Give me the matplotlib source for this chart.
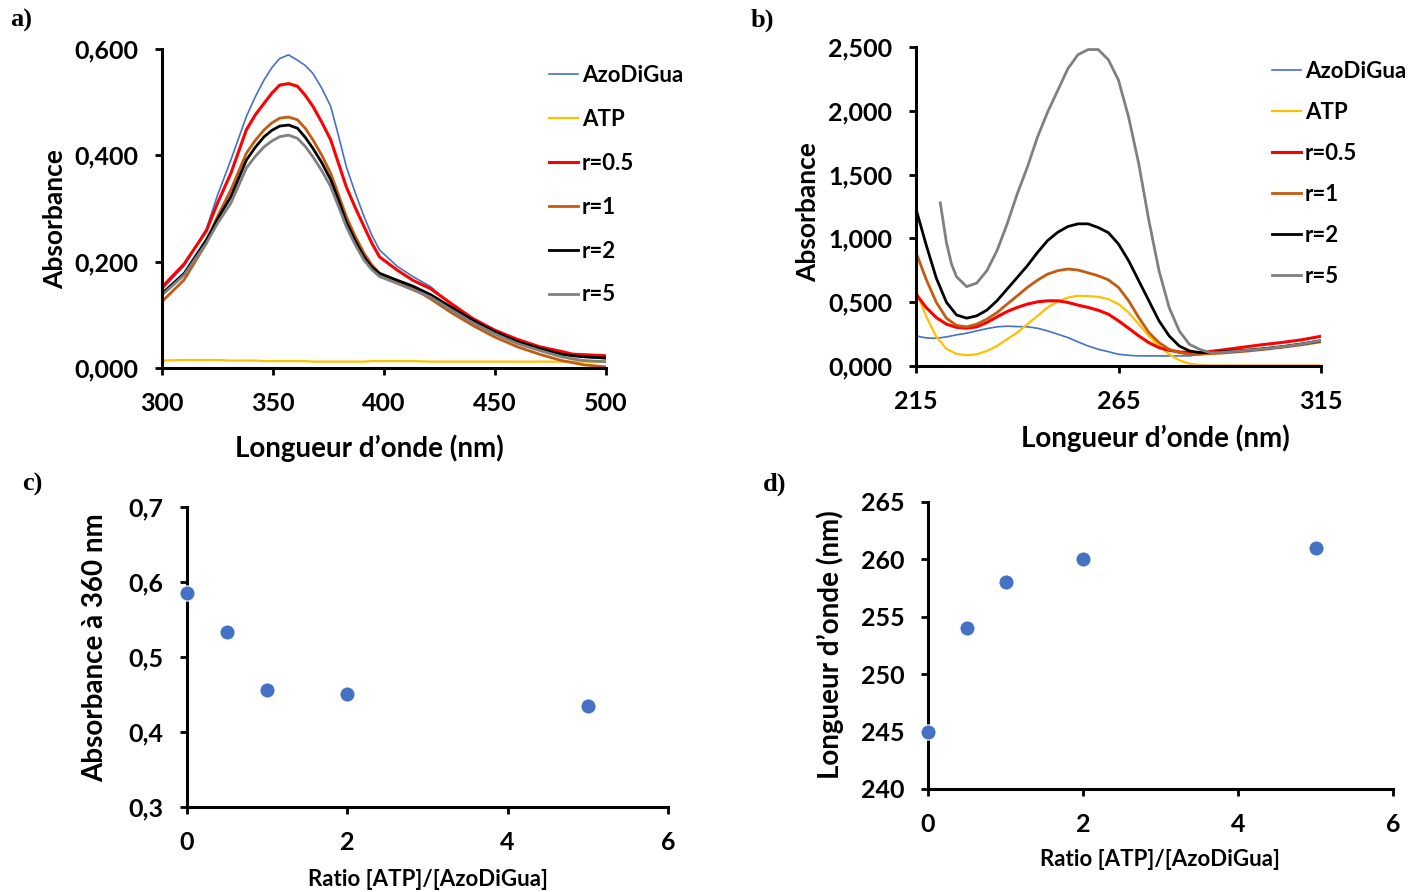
import numpy as np
import matplotlib
matplotlib.use('Agg')
import matplotlib.pyplot as plt
from matplotlib.ticker import FuncFormatter

plt.rcParams['font.family'] = ['Lato', 'DejaVu Sans']
plt.rcParams['font.weight'] = 'bold'

# a) spectra 300-500 nm
wl_a = [300, 310, 320, 325, 331, 338, 342, 346, 349.5, 353, 357, 361, 364.5, 368, 372, 376,
        379.5, 383, 387, 391, 394.5, 398, 406, 413, 421, 430, 440, 450, 460, 470, 480, 485,
        490, 500]
azo_a = [0.148, 0.192, 0.262, 0.325, 0.391, 0.473, 0.510, 0.542, 0.565, 0.582, 0.589, 0.579,
         0.569, 0.554, 0.526, 0.492, 0.437, 0.379, 0.330, 0.285, 0.250, 0.222, 0.191, 0.172,
         0.153, 0.120, 0.092, 0.069, 0.052, 0.039, 0.029, 0.024, 0.021, 0.017]
atp_a = [0.014, 0.015, 0.015, 0.015, 0.014, 0.014, 0.014, 0.013, 0.013, 0.013, 0.013, 0.013,
         0.013, 0.012, 0.012, 0.012, 0.012, 0.012, 0.012, 0.012, 0.013, 0.013, 0.013, 0.013,
         0.012, 0.012, 0.012, 0.012, 0.012, 0.012, 0.012, 0.012, 0.012, 0.011]
r05_a = [0.152, 0.196, 0.258, 0.310, 0.366, 0.448, 0.476, 0.498, 0.517, 0.532, 0.535, 0.530,
         0.513, 0.492, 0.462, 0.429, 0.385, 0.341, 0.302, 0.266, 0.235, 0.209, 0.184, 0.165,
         0.149, 0.122, 0.093, 0.071, 0.054, 0.040, 0.031, 0.026, 0.025, 0.023]
r1_a = [0.125, 0.166, 0.235, 0.285, 0.335, 0.404, 0.428, 0.448, 0.461, 0.470, 0.472, 0.467,
        0.451, 0.429, 0.400, 0.366, 0.326, 0.285, 0.248, 0.216, 0.194, 0.178, 0.163, 0.150,
        0.130, 0.105, 0.080, 0.058, 0.040, 0.026, 0.014, 0.010, 0.006, 0.002]
r2_a = [0.140, 0.178, 0.241, 0.280, 0.322, 0.391, 0.415, 0.435, 0.447, 0.455, 0.457, 0.451,
        0.434, 0.413, 0.386, 0.354, 0.316, 0.275, 0.240, 0.209, 0.190, 0.178, 0.165, 0.154,
        0.138, 0.115, 0.090, 0.068, 0.050, 0.037, 0.026, 0.023, 0.021, 0.019]
r5_a = [0.137, 0.175, 0.235, 0.272, 0.310, 0.376, 0.398, 0.416, 0.427, 0.435, 0.438, 0.432,
        0.417, 0.397, 0.371, 0.341, 0.304, 0.266, 0.232, 0.203, 0.185, 0.172, 0.159, 0.147,
        0.133, 0.110, 0.085, 0.064, 0.046, 0.033, 0.021, 0.017, 0.014, 0.012]

# b) spectra 215-315 nm
wl_b = [215, 217.5, 220, 222.5, 225, 227.5, 230, 232.5, 235, 237.5, 240, 242.5, 245, 247.5,
        250, 252.5, 255, 257.5, 260, 262.5, 265, 267.5, 270, 272.5, 275, 277.5, 280, 282.5,
        285, 287.5, 290, 295, 300, 305, 310, 315]
azo_b = [0.236, 0.220, 0.217, 0.228, 0.244, 0.257, 0.275, 0.293, 0.307, 0.312, 0.309, 0.307,
         0.296, 0.275, 0.249, 0.223, 0.189, 0.157, 0.131, 0.112, 0.092, 0.084, 0.079, 0.079,
         0.079, 0.079, 0.079, 0.079, 0.090, 0.098, 0.105, 0.118, 0.131, 0.149, 0.168, 0.195]
atp_b = [0.590, 0.390, 0.230, 0.135, 0.095, 0.084, 0.092, 0.118, 0.157, 0.210, 0.262, 0.328,
         0.393, 0.459, 0.506, 0.537, 0.550, 0.548, 0.542, 0.524, 0.485, 0.419, 0.328, 0.236,
         0.157, 0.092, 0.045, 0.018, 0.008, 0.005, 0.005, 0.005, 0.005, 0.005, 0.005, 0.005]
r05_b = [0.563, 0.459, 0.380, 0.328, 0.303, 0.296, 0.307, 0.341, 0.385, 0.427, 0.459, 0.485,
         0.503, 0.511, 0.511, 0.498, 0.477, 0.459, 0.437, 0.406, 0.354, 0.296, 0.236, 0.183,
         0.144, 0.123, 0.110, 0.105, 0.105, 0.113, 0.123, 0.144, 0.165, 0.183, 0.204, 0.233]
r1_b = [0.891, 0.680, 0.500, 0.375, 0.318, 0.307, 0.328, 0.367, 0.419, 0.485, 0.550, 0.616,
        0.673, 0.720, 0.747, 0.760, 0.752, 0.730, 0.707, 0.675, 0.616, 0.511, 0.380, 0.262,
        0.183, 0.131, 0.105, 0.092, 0.092, 0.097, 0.100, 0.112, 0.127, 0.145, 0.165, 0.190]
r2_b = [1.231, 0.950, 0.690, 0.500, 0.400, 0.375, 0.393, 0.438, 0.511, 0.603, 0.694, 0.786,
        0.890, 0.983, 1.048, 1.093, 1.114, 1.114, 1.085, 1.045, 0.956, 0.825, 0.668, 0.511,
        0.354, 0.236, 0.157, 0.118, 0.105, 0.105, 0.110, 0.120, 0.133, 0.150, 0.172, 0.198]
# r=5 starts later (221 nm)
wl_b5 = [221, 222.5, 223.75, 225, 227.5, 230, 232.5, 235, 237.5, 240, 242.5, 245, 247.5, 250,
         252.5, 255, 257.5, 260, 262.5, 265, 267.5, 270, 272.5, 275, 277.5, 280, 282.5, 285,
         287.5, 290, 295, 300, 305, 310, 315]
r5_b = [1.278, 0.970, 0.800, 0.700, 0.622, 0.650, 0.747, 0.904, 1.113, 1.349, 1.559, 1.795,
        1.990, 2.160, 2.330, 2.440, 2.480, 2.480, 2.400, 2.240, 1.950, 1.585, 1.140, 0.747,
        0.459, 0.275, 0.170, 0.131, 0.105, 0.105, 0.118, 0.131, 0.149, 0.170, 0.200]

# c) and d) vs ratio
ratio = [0, 0.5, 1, 2, 5]
abs360 = [0.586, 0.534, 0.456, 0.451, 0.435]
lam_max = [245, 254, 258, 260, 261]

labels = ['AzoDiGua', 'ATP', 'r=0.5', 'r=1', 'r=2', 'r=5']
colors = ['#4472C4', '#FFC000', '#FF0000', '#C55A11', '#000000', '#808080']
widths = [1.2, 1.6, 2.2, 2.0, 2.0, 2.0]

fig = plt.figure(figsize=(14.19, 8.92), dpi=100)


def style(ax):
    for s in ['top', 'right']:
        ax.spines[s].set_visible(False)
    for s in ['left', 'bottom']:
        ax.spines[s].set_linewidth(2.2)
    ax.tick_params(direction='out', length=5, width=2, labelsize=18, pad=12)
    for t in ax.get_xticklabels() + ax.get_yticklabels():
        t.set_fontweight('bold')


def comma(fmt):
    return FuncFormatter(lambda v, _: format(v, fmt).replace('.', ','))


def place_labels(ax, xpos, ypos):
    ax.xaxis.set_label_coords(*xpos)
    ax.xaxis.label.set_verticalalignment('center')
    ax.yaxis.set_label_coords(*ypos)
    ax.yaxis.label.set_verticalalignment('center')


# panel a
ax1 = fig.add_axes([162 / 1419, 1 - 368 / 892, 444 / 1419, 319 / 892])
for y, lab, c, w in zip([azo_a, atp_a, r05_a, r1_a, r2_a, r5_a], labels, colors, widths):
    ax1.plot(wl_a, y, color=c, lw=w, label=lab)
ax1.set_xlim(300, 500)
ax1.set_ylim(0, 0.6)
ax1.set_xticks([300, 350, 400, 450, 500])
ax1.set_yticks([0, 0.2, 0.4, 0.6])
ax1.yaxis.set_major_formatter(comma('.3f'))
style(ax1)
ax1.set_xlabel('Longueur d’onde (nm)', fontsize=20, fontweight='bold')
ax1.set_ylabel('Absorbance', fontsize=19, fontweight='bold')
place_labels(ax1, (0.466, -0.251), (-0.241, 0.467))
ax1.legend(loc='upper left', bbox_to_anchor=(549 / 1419, 1 - 65 / 892),
           bbox_transform=fig.transFigure, frameon=False, fontsize=16, borderpad=0,
           handlelength=1.3, handletextpad=0.18, labelspacing=1.03, borderaxespad=0)

# panel b
ax2 = fig.add_axes([916 / 1419, 1 - 366 / 892, 405 / 1419, 319 / 892])
ys_b = [azo_b, atp_b, r05_b, r1_b, r2_b]
for y, lab, c, w in zip(ys_b, labels[:5], colors[:5], widths[:5]):
    ax2.plot(wl_b, y, color=c, lw=w, label=lab)
ax2.plot(wl_b5, r5_b, color=colors[5], lw=widths[5], label=labels[5])
ax2.set_xlim(215, 315)
ax2.set_ylim(0, 2.5)
ax2.set_xticks([215, 265, 315])
ax2.set_yticks([0, 0.5, 1.0, 1.5, 2.0, 2.5])
ax2.yaxis.set_major_formatter(comma('.3f'))
style(ax2)
ax2.set_xlabel('Longueur d’onde (nm)', fontsize=20, fontweight='bold')
ax2.set_ylabel('Absorbance', fontsize=19, fontweight='bold')
place_labels(ax2, (0.590, -0.226), (-0.267, 0.483))
ax2.legend(loc='upper left', bbox_to_anchor=(1272 / 1419, 1 - 61 / 892),
           bbox_transform=fig.transFigure, frameon=False, fontsize=16, borderpad=0,
           handlelength=1.3, handletextpad=0.18, labelspacing=0.90, borderaxespad=0)

# panel c
ax3 = fig.add_axes([187 / 1419, 1 - 807 / 892, 481 / 1419, 300 / 892])
ax3.scatter(ratio, abs360, s=120, color='#4472C4', edgecolor='white', linewidth=0.8,
            zorder=3, clip_on=False)
ax3.set_xlim(0, 6)
ax3.set_ylim(0.3, 0.7)
ax3.set_xticks([0, 2, 4, 6])
ax3.set_yticks([0.3, 0.4, 0.5, 0.6, 0.7])
ax3.yaxis.set_major_formatter(comma('.1f'))
style(ax3)
ax3.set_xlabel('Ratio [ATP]/[AzoDiGua]', fontsize=16, fontweight='bold')
ax3.set_ylabel('Absorbance à 360 nm', fontsize=20, fontweight='bold')
place_labels(ax3, (0.501, -0.24), (-0.191, 0.53))

# panel d
ax4 = fig.add_axes([928 / 1419, 1 - 789 / 892, 465 / 1419, 287 / 892])
ax4.scatter(ratio, lam_max, s=120, color='#4472C4', edgecolor='white', linewidth=0.8,
            zorder=3, clip_on=False)
ax4.set_xlim(0, 6)
ax4.set_ylim(240, 265)
ax4.set_xticks([0, 2, 4, 6])
ax4.set_yticks([240, 245, 250, 255, 260, 265])
style(ax4)
ax4.set_xlabel('Ratio [ATP]/[AzoDiGua]', fontsize=16, fontweight='bold')
ax4.set_ylabel('Longueur d’onde (nm)', fontsize=20, fontweight='bold')
place_labels(ax4, (0.499, -0.247), (-0.211, 0.502))

# panel letters
for txt, x, y in [('a)', 10, 20), ('b)', 751, 20), ('c)', 22, 484), ('d)', 763, 484)]:
    fig.text(x / 1419, 1 - y / 892, txt, fontsize=19, fontweight='bold',
             family='Liberation Serif', va='center', ha='left')

fig.savefig('out.png', dpi=100)
